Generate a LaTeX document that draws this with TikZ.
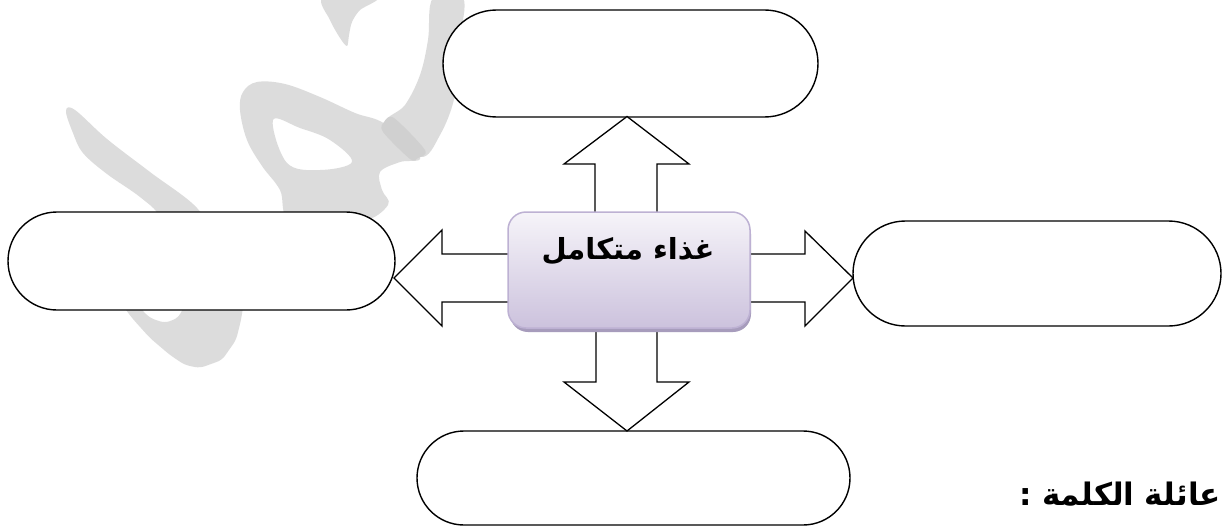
\documentclass[tikz,border=0pt]{standalone}
\usepackage{fontspec}
\newfontfamily\arabicfont[Script=Arabic]{DejaVu Sans}
\TeXXeTstate=1
\usetikzlibrary{shapes.misc}
\definecolor{wm}{HTML}{DCDCDC}
\definecolor{wmdark}{HTML}{D0D0D0}
\definecolor{boxline}{HTML}{BDB1D3}
\definecolor{boxtop}{HTML}{F6F4F9}
\definecolor{boxbot}{HTML}{CCC2DD}
\definecolor{boxshadow}{HTML}{A79CBC}
\begin{document}
\begin{tikzpicture}[x=1pt,y=-1pt,
  stadium/.style={rounded rectangle, draw=black, line width=1.4pt, fill=white, inner sep=0pt},
  blockarrow/.style={draw=black, line width=1.3pt, fill=white, line join=miter},
  centerbox/.style={draw=boxline, line width=1.5pt, top color=boxtop, bottom color=boxbot, rounded corners=18pt, inner sep=0pt},
  label/.style={font=\arabicfont\bfseries, text=black, inner sep=0pt},
  famword/.style={label, anchor=base west, font=\arabicfont\bfseries\fontsize{31}{37}\selectfont}]
\useasboundingbox (0,0) rectangle (1223,527);
\clip (0,0) rectangle (1223,527);
\fill[white] (0,0) rectangle (1223,527);

% watermark
\fill[wm] plot[smooth cycle, tension=0.6] coordinates {(66,111) (75,110) (107,139) (150,172) (197,208) (212,240) (200,270) (168,250) (160,217) (140,197) (107,174) (83,153) (73,133)};
\fill[wm, rounded corners=5pt] (115,295) -- (140,295) -- (140,308) -- (150,318) -- (165,323) -- (178,318) -- (185,305) -- (185,295) -- (245,295) -- (241,320) -- (236,340) -- (222,360) -- (200,368) -- (185,365) -- (170,355) -- (150,338) -- (132,318) -- cycle;
\fill[wm, even odd rule] plot[smooth cycle, tension=0.6] coordinates {(257,82) (285,84) (320,97) (355,113) (385,124) (420,157) (400,162) (380,172) (382,190) (388,205) (360,222) (292,222) (280,190) (262,166) (247,140) (240,110) (243,92)}
  plot[smooth cycle, tension=0.6] coordinates {(273,120) (300,128) (330,140) (352,162) (320,170) (287,163)};
\fill[wm] plot[smooth cycle, tension=0.6] coordinates {(433,-2) (463,-2) (460,40) (455,95) (440,135) (420,157) (385,125) (405,105) (420,75) (428,40)};
\fill[wmdark] plot[smooth cycle, tension=0.5] coordinates {(384,122) (394,118) (425,150) (418,158) (410,159) (383,132)};
\fill[wm] plot[smooth cycle, tension=0.5] coordinates {(323,-2) (377,-2) (360,10) (352,22) (349,35) (347,46) (340,38) (330,20)};

% outer stadiums
\node[stadium, minimum width=375pt, minimum height=107pt] (top) at (630.5,63.5) {};
\node[stadium, minimum width=387pt, minimum height=98pt] (left) at (201.5,261) {};
\node[stadium, minimum width=368pt, minimum height=105pt] (right) at (1037,273.5) {};
\node[stadium, minimum width=433pt, minimum height=94pt] (bottom) at (633.5,478) {};

% block arrows
\draw[blockarrow] (595,214) -- (595,164) -- (564,164) -- (627,116.5) -- (689,164) -- (657,164) -- (657,214) -- cycle;
\draw[blockarrow] (596,326) -- (596,382) -- (564,382) -- (627,431) -- (689,382) -- (657,382) -- (657,326) -- cycle;
\draw[blockarrow] (512,254) -- (442,254) -- (442,230) -- (394,278) -- (442,326) -- (442,302) -- (512,302) -- cycle;
\draw[blockarrow] (746,254) -- (805,254) -- (805,231) -- (853,278) -- (805,326) -- (805,302) -- (746,302) -- cycle;

% central box
\fill[boxshadow, rounded corners=18pt] (510,216) rectangle (751,332);
\node[centerbox, minimum width=242pt, minimum height=116pt] (c) at (629,270) {};
\node[label, font=\arabicfont\bfseries\fontsize{29}{35}\selectfont] (ct) at (628,251) {\beginR غذاء متكامل\endR};

% word family text, right to left: عائلة الكلمة : (cut at the right edge)
\node[famword] (famC) at (1019,505) {:};
\node[famword] (famB) at ([xshift=10pt]famC.base east) {\beginR الكلمة\endR};
\node[famword] (famA) at ([xshift=10pt]famB.base east) {\beginR عائلة\endR};
\end{tikzpicture}
\end{document}
